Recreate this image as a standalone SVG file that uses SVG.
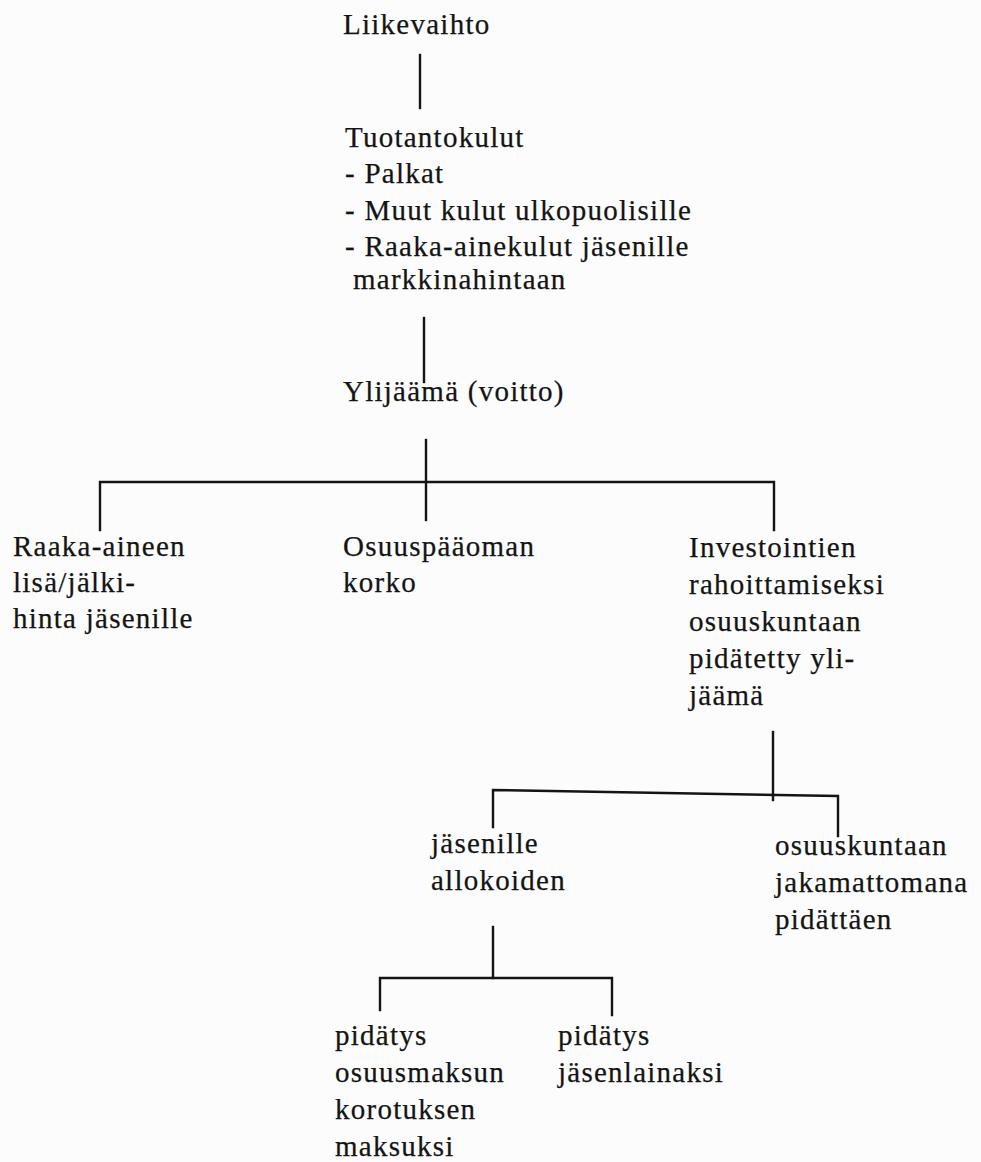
<svg xmlns="http://www.w3.org/2000/svg" width="981" height="1162" viewBox="0 0 981 1162">
<style>
text{font-family:"Liberation Serif","Times New Roman",serif;font-size:29px;letter-spacing:1.25px;fill:#141414;stroke:#141414;stroke-width:0.25}
.c{stroke:#141414;stroke-width:2.4;fill:none;stroke-linecap:square}
</style>
<rect width="981" height="1162" fill="#fcfcfc"/>
<g id="connectors">
<line class="c" x1="420" y1="55" x2="420" y2="108"/>
<line class="c" x1="424" y1="318" x2="424" y2="382"/>
<line class="c" x1="426" y1="440" x2="426" y2="520"/>
<polyline class="c" points="100,530 100,482 774,482 774,530"/>
<line class="c" x1="773" y1="732" x2="773" y2="800"/>
<polyline class="c" points="493,827 493,790 838,796 838,836"/>
<line class="c" x1="493" y1="927" x2="493" y2="978"/>
<polyline class="c" points="380,1010 380,978 612,978 612,1015"/>
</g>
<g id="liikevaihto"><text x="343" y="34">Liikevaihto</text></g>
<g id="tuotantokulut"><text><tspan x="345" y="147">Tuotantokulut</tspan><tspan x="345" y="183">- Palkat</tspan><tspan x="345" y="220">- Muut kulut ulkopuolisille</tspan><tspan x="345" y="256">- Raaka-ainekulut jäsenille</tspan><tspan x="353" y="289">markkinahintaan</tspan></text></g>
<g id="ylijaama"><text x="343" y="401">Ylijäämä (voitto)</text></g>
<g id="raaka-aineen"><text><tspan x="13" y="556">Raaka-aineen</tspan><tspan x="13" y="592">lisä/jälki-</tspan><tspan x="13" y="628">hinta jäsenille</tspan></text></g>
<g id="osuuspaaoman"><text><tspan x="343" y="556">Osuuspääoman</tspan><tspan x="343" y="592">korko</tspan></text></g>
<g id="investointien"><text><tspan x="689" y="557">Investointien</tspan><tspan x="689" y="594">rahoittamiseksi</tspan><tspan x="689" y="631">osuuskuntaan</tspan><tspan x="689" y="668">pidätetty yli-</tspan><tspan x="689" y="705">jäämä</tspan></text></g>
<g id="jasenille"><text><tspan x="431" y="853">jäsenille</tspan><tspan x="431" y="890">allokoiden</tspan></text></g>
<g id="osuuskuntaan"><text><tspan x="775" y="855">osuuskuntaan</tspan><tspan x="775" y="892">jakamattomana</tspan><tspan x="775" y="929">pidättäen</tspan></text></g>
<g id="pidatys-osuusmaksun"><text><tspan x="335" y="1045">pidätys</tspan><tspan x="335" y="1082">osuusmaksun</tspan><tspan x="335" y="1119">korotuksen</tspan><tspan x="335" y="1156">maksuksi</tspan></text></g>
<g id="pidatys-jasenlainaksi"><text><tspan x="558" y="1045">pidätys</tspan><tspan x="558" y="1082">jäsenlainaksi</tspan></text></g>
</svg>
